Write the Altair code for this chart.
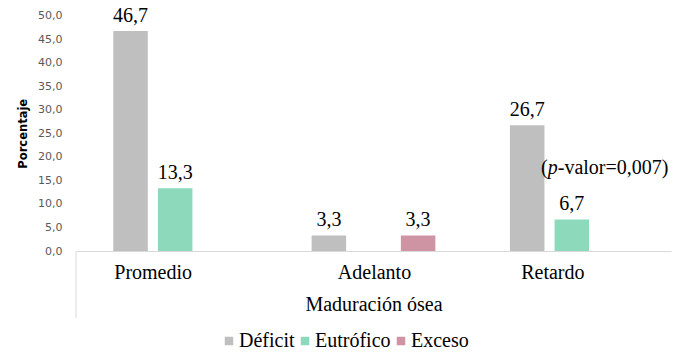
import altair as alt
import pandas as pd

categories = ["Promedio", "Adelanto", "Retardo"]
series = ["Déficit", "Eutrófico", "Exceso"]
deficit = [46.7, 3.3, 26.7]
eutrofico = [13.3, 0.0, 6.7]
exceso = [0.0, 3.3, 0.0]
colors = ["#BFBFBF", "#8DD9BB", "#CF94A3"]
y_ticks = [0, 5, 10, 15, 20, 25, 30, 35, 40, 45, 50]
p_text = ["(", "p", "-valor=0,007)"]
p_y = 16.35

rows = []
for i, c in enumerate(categories):
    for s, vals in zip(series, [deficit, eutrofico, exceso]):
        v = vals[i]
        rows.append({"cat": c, "serie": s, "valor": v,
                     "etiqueta": f"{v:.1f}".replace(".", ",")})
df = pd.DataFrame(rows)

W, H = 595, 235.5
SERIF = "'Liberation Serif', 'Times New Roman', Times, serif"
SANS = "'DejaVu Sans', Verdana, sans-serif"

x_enc = alt.X("cat:N", sort=categories,
              scale=alt.Scale(paddingInner=0.376, paddingOuter=0.188),
              axis=alt.Axis(title="Maduración ósea", labelAngle=0, ticks=False, tickSize=0,
                            labelFont=SERIF, labelFontSize=20, labelColor="black",
                            labelBaseline="alphabetic", labelPadding=27,
                            labelOffset={"condition": [
                                {"test": "datum.value === 'Promedio'", "value": -22},
                                {"test": "datum.value === 'Retardo'", "value": -19}],
                                "value": 1},
                            domainColor="#D9D9D9", domainWidth=1,
                            titleFont=SERIF, titleFontSize=20, titleFontWeight="normal",
                            titleColor="black", titleBaseline="alphabetic",
                            titleY=59, titleX=W / 2, titleAlign="center"))
y_enc = alt.Y("valor:Q", scale=alt.Scale(domain=[0, 50], nice=False),
              axis=alt.Axis(title="Porcentaje", values=y_ticks, tickCount=11,
                            grid=False, domain=False,
                            ticks=False, tickSize=0, labelPadding=14, labelOverlap=False,
                            labelExpr="replace(format(datum.value, '.1f'), '.', ',')",
                            labelFont=SANS, labelFontSize=11, labelColor="#595959",
                            titleFont=SANS, titleFontSize=11.5, titleFontWeight="bold",
                            titleColor="black", titleX=-53, titleY=H / 2,
                            titleAngle=270, titleBaseline="middle", titleAlign="center"))
xo_enc = alt.XOffset("serie:N", sort=series,
                     scale=alt.Scale(paddingInner=0.2265, paddingOuter=0))

base = alt.Chart(df).encode(x=x_enc, y=y_enc)

bars = base.mark_bar().encode(
    xOffset=xo_enc,
    color=alt.Color("serie:N", sort=series,
                    scale=alt.Scale(domain=series, range=colors),
                    legend=alt.Legend(title=None, orient="none", direction="horizontal",
                                      legendX=143, legendY=315.5, padding=0,
                                      symbolType="square", symbolSize=72,
                                      symbolStrokeWidth=0, labelOffset=0,
                                      columnPadding=0, labelFont=SERIF,
                                      labelFontSize=20, labelColor="black")),
)

labels = base.transform_filter("datum.valor > 0").mark_text(
    font=SERIF, fontSize=20, color="black", baseline="alphabetic", dy=-9
).encode(xOffset=xo_enc, text="etiqueta:N")

pdf = pd.DataFrame({"cat": ["Retardo"], "valor": [p_y]})
p_dx = [-30.8, -24.1, -14.1]
p_style = ["normal", "italic", "normal"]
p_layers = [
    alt.Chart(pdf).mark_text(font=SERIF, fontSize=20, color="black", align="left",
                             baseline="alphabetic", dx=dx, fontStyle=st, text=t)
    .encode(x=x_enc, y=y_enc)
    for t, dx, st in zip(p_text, p_dx, p_style)
]

edge = alt.Chart(pd.DataFrame({"a": [0]})).mark_rule(color="#D9D9D9").encode(
    x=alt.value(0), y=alt.value(H), y2=alt.value(H + 67))

chart = alt.layer(bars, labels, *p_layers, edge).properties(
    width=W, height=H,
    autosize=alt.AutoSizeParams(type="none"),
    padding={"left": 68, "top": 7.5, "right": 9, "bottom": 99},
    background="white",
).configure_view(stroke=None)

chart.save("out.html", embed_options={"renderer": "svg", "actions": False})
